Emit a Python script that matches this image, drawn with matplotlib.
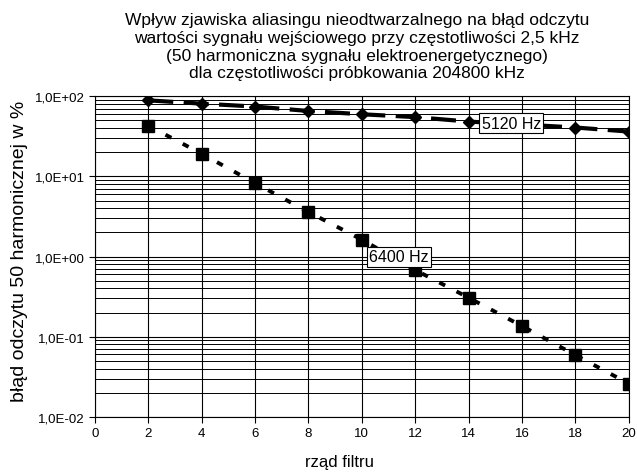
import numpy as np
import matplotlib.pyplot as plt
from matplotlib.ticker import FixedLocator, FuncFormatter, LogLocator, NullFormatter

plt.rcParams['font.family'] = ['Liberation Sans', 'DejaVu Sans']

# ============== DATA ==============

filter_order = [2, 4, 6, 8, 10, 12, 14, 16, 18, 20]
err_5120 = [89, 81, 74.5, 65.6, 59.7, 55, 48.4, 44.5, 40.8, 36.3]
err_6400 = [43, 19.2, 8.25, 3.6, 1.63, 0.68, 0.307, 0.136, 0.059, 0.026]

title = ('Wpływ zjawiska aliasingu nieodtwarzalnego na błąd odczytu\n'
         'wartości sygnału wejściowego przy częstotliwości 2,5 kHz\n'
         '(50 harmoniczna sygnału elektroenergetycznego)\n'
         'dla częstotliwości próbkowania 204800 kHz')


def sci_comma(v, pos):
	exp = int(round(np.log10(v)))
	sign = '+' if exp >= 0 else '-'
	return f'1,0E{sign}{abs(exp):02d}'


fig = plt.figure(figsize=(6.37, 4.77), dpi=100)
ax = fig.add_axes([0.149, 0.124, 0.838, 0.672])

ax.set_yscale('log')
ax.set_ylim(0.01, 100)
ax.set_xlim(0, 20)

# grid
ax.yaxis.set_major_locator(LogLocator(base=10, numticks=10))
ax.yaxis.set_minor_locator(LogLocator(base=10, subs=np.arange(2, 10), numticks=20))
ax.yaxis.set_major_formatter(FuncFormatter(sci_comma))
ax.yaxis.set_minor_formatter(NullFormatter())
ax.xaxis.set_major_locator(FixedLocator(np.arange(0, 21, 2)))
ax.grid(True, which='major', axis='both', color='black', linewidth=0.8)
ax.grid(True, which='minor', axis='y', color='black', linewidth=0.7)
ax.tick_params(axis='y', which='minor', length=0)
ax.tick_params(axis='both', which='major', direction='out', length=4, labelsize=9.5)
ax.set_axisbelow(True)

# series
ax.plot(filter_order, err_5120, color='black', linewidth=3, linestyle=(0, (6, 2.5)),
		marker='D', markersize=6)
ax.plot(filter_order, err_6400, color='black', linewidth=2.8, linestyle=(0, (1.7, 3.3)),
		marker='s', markersize=8.5)

box = dict(boxstyle='square,pad=0.15', facecolor='white', edgecolor='black', linewidth=0.8)
ax.text(15.6, 46.4, '5120 Hz', fontsize=11.5, ha='center', va='center', bbox=box)
ax.text(11.4, 0.99, '6400 Hz', fontsize=11.5, ha='center', va='center', bbox=box)

ax.set_xlabel('rząd filtru', fontsize=12)
ax.xaxis.set_label_coords(0.459, -0.115)
ax.set_ylabel('błąd odczytu 50 harmonicznej w %', fontsize=14)
ax.yaxis.set_label_coords(-0.125, 0.52)
fig.text(0.56, 0.901, title, ha='center', va='center', fontsize=12.5, linespacing=1.22)

fig.savefig('out.png', dpi=100)
